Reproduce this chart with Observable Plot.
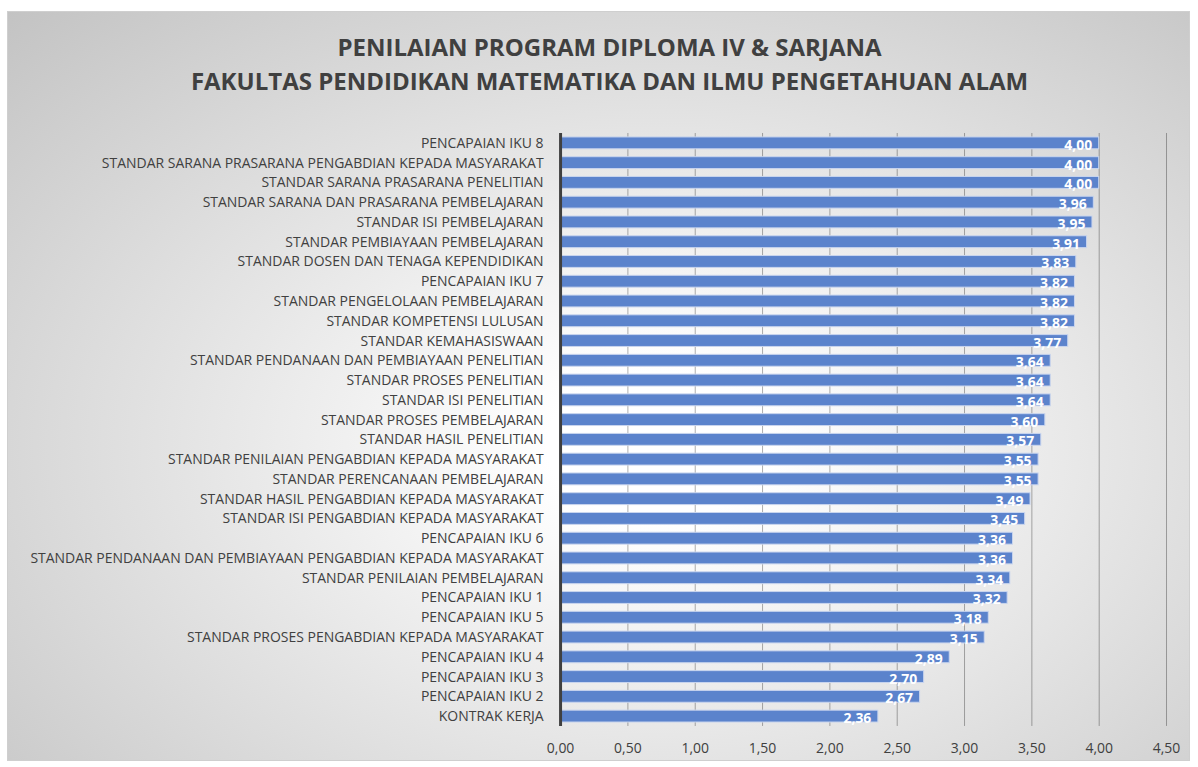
<!DOCTYPE html>
<html>
<head>
<meta charset="utf-8">
<script src="https://cdn.jsdelivr.net/npm/d3@7"></script>
<script src="https://cdn.jsdelivr.net/npm/@observablehq/plot@0.6"></script>
<style>
  body { margin: 0; background: #ffffff; }
  #frame {
    position: absolute; left: 7px; top: 11px; width: 1183px; height: 750px;
    box-sizing: border-box; border: 1px solid #cfcfcf;
    background: radial-gradient(ellipse farthest-corner at 55% 58%, #ffffff 0%, #ffffff 12%, #c3c3c3 100%);
    font-family: "Open Sans", sans-serif; overflow: hidden;
  }
  #title {
    height: 110px; box-sizing: border-box; padding-top: 18px; padding-left: 22px;
    text-align: center; color: #404040; font-weight: bold; font-size: 24px; line-height: 34px;
  }
  #chart svg { display: block; }
</style>
</head>
<body>
<div id="frame">
  <div id="title">PENILAIAN PROGRAM DIPLOMA IV &amp; SARJANA<br>FAKULTAS PENDIDIKAN MATEMATIKA DAN ILMU PENGETAHUAN ALAM</div>
  <div id="chart"></div>
</div>
<script>
const categories = [
  "PENCAPAIAN IKU 8",
  "STANDAR SARANA PRASARANA PENGABDIAN KEPADA MASYARAKAT",
  "STANDAR SARANA PRASARANA PENELITIAN",
  "STANDAR SARANA DAN PRASARANA PEMBELAJARAN",
  "STANDAR ISI PEMBELAJARAN",
  "STANDAR PEMBIAYAAN PEMBELAJARAN",
  "STANDAR DOSEN DAN TENAGA KEPENDIDIKAN",
  "PENCAPAIAN IKU 7",
  "STANDAR PENGELOLAAN PEMBELAJARAN",
  "STANDAR KOMPETENSI LULUSAN",
  "STANDAR KEMAHASISWAAN",
  "STANDAR PENDANAAN DAN PEMBIAYAAN PENELITIAN",
  "STANDAR PROSES PENELITIAN",
  "STANDAR ISI PENELITIAN",
  "STANDAR PROSES PEMBELAJARAN",
  "STANDAR HASIL PENELITIAN",
  "STANDAR PENILAIAN PENGABDIAN KEPADA MASYARAKAT",
  "STANDAR PERENCANAAN PEMBELAJARAN",
  "STANDAR HASIL PENGABDIAN KEPADA MASYARAKAT",
  "STANDAR ISI PENGABDIAN KEPADA MASYARAKAT",
  "PENCAPAIAN IKU 6",
  "STANDAR PENDANAAN DAN PEMBIAYAAN PENGABDIAN KEPADA MASYARAKAT",
  "STANDAR PENILAIAN PEMBELAJARAN",
  "PENCAPAIAN IKU 1",
  "PENCAPAIAN IKU 5",
  "STANDAR PROSES PENGABDIAN KEPADA MASYARAKAT",
  "PENCAPAIAN IKU 4",
  "PENCAPAIAN IKU 3",
  "PENCAPAIAN IKU 2",
  "KONTRAK KERJA"
];
const values = [4.00, 4.00, 4.00, 3.96, 3.95, 3.91, 3.83, 3.82, 3.82, 3.82, 3.77, 3.64, 3.64, 3.64, 3.60, 3.57, 3.55, 3.55, 3.49, 3.45, 3.36, 3.36, 3.34, 3.32, 3.18, 3.15, 2.89, 2.70, 2.67, 2.36];
const xTicks = [0, 0.5, 1, 1.5, 2, 2.5, 3, 3.5, 4, 4.5];

const data = categories.map((c, i) => ({category: c, value: values[i]}));
const fmt = v => d3.format(".2f")(v).replace(".", ",");

const chart = Plot.plot({
  width: 1183,
  height: 640,
  marginLeft: 553,
  marginRight: 23,
  marginTop: 11,
  marginBottom: 35,
  style: {background: "transparent", fontFamily: "Open Sans, sans-serif", fontSize: "14px", color: "#404040"},
  x: {domain: [0, 4.5], ticks: xTicks, tickFormat: fmt, label: null},
  y: {domain: categories, label: null, paddingInner: 0.4, paddingOuter: 0.2, round: false},
  marks: [
    Plot.ruleX(xTicks.filter(t => t > 0), {stroke: "#000000", strokeOpacity: 0.32, strokeWidth: 1}),
    Plot.barX(data, {x: "value", y: "category", fill: "#5b83cc", stroke: "#c9d5ee", strokeWidth: 1}),
    Plot.text(data, {x: "value", y: "category", text: d => fmt(d.value), textAnchor: "end", dx: -7, dy: 2, fill: "white", fontWeight: "bold", fontSize: 14}),
    Plot.ruleX([0], {stroke: "#404040", strokeWidth: 3}),
    Plot.axisX({ticks: xTicks, tickFormat: fmt, tickSize: 0, tickPadding: 17, fontSize: 14}),
    Plot.axisY({tickSize: 0, tickPadding: 17, fontSize: 14})
  ]
});
document.getElementById("chart").appendChild(chart);
</script>
</body>
</html>
